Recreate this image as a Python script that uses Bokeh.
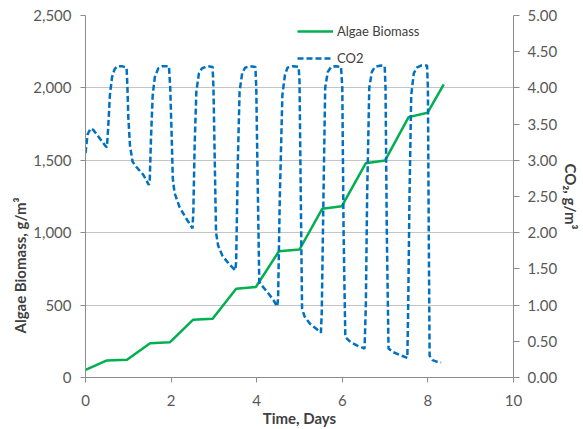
from bokeh.plotting import figure
from bokeh.models import (Range1d, LinearAxis, SingleIntervalTicker, NumeralTickFormatter,
                          Legend, LegendItem, Title)
from bokeh.embed import file_html
from bokeh.resources import INLINE

# ---- data ----
days_bio = [0.0, 0.5, 0.97, 1.51, 1.97, 2.51, 2.97, 3.52, 3.98, 4.52, 5.0, 5.53, 5.99, 6.55, 7.0, 7.55, 7.99, 8.37]
algae_biomass = [52, 118, 123, 237, 243, 398, 406, 613, 625, 872, 884, 1165, 1183, 1480, 1499, 1798, 1828, 2025]

days_co2 = [
    0.00, 0.05, 0.12, 0.18, 0.30, 0.45, 0.50, 0.53, 0.57, 0.62, 0.68, 0.75, 0.85, 0.96,
    0.98, 1.00, 1.04, 1.10, 1.20, 1.35, 1.48, 1.50, 1.53, 1.57, 1.62, 1.70, 1.80, 1.95,
    1.98, 2.01, 2.04, 2.08, 2.20, 2.35, 2.50, 2.52, 2.55, 2.59, 2.65, 2.72, 2.85, 2.97,
    2.99, 3.02, 3.05, 3.10, 3.20, 3.35, 3.50, 3.52, 3.56, 3.60, 3.66, 3.73, 3.85, 3.97,
    3.99, 4.02, 4.06, 4.12, 4.25, 4.40, 4.48, 4.50, 4.54, 4.60, 4.66, 4.72, 4.85, 4.98,
    5.00, 5.03, 5.06, 5.12, 5.25, 5.40, 5.50, 5.52, 5.56, 5.60, 5.66, 5.74, 5.85, 5.97,
    6.00, 6.03, 6.07, 6.19, 6.35, 6.52, 6.55, 6.58, 6.63, 6.69, 6.76, 6.90, 6.99,
    7.01, 7.04, 7.08, 7.19, 7.35, 7.52, 7.54, 7.57, 7.61, 7.67, 7.74, 7.85, 7.98,
    8.00, 8.02, 8.04, 8.11, 8.20, 8.31,
]
co2_conc = [
    3.10, 3.36, 3.44, 3.42, 3.33, 3.21, 3.18, 3.45, 3.90, 4.15, 4.26, 4.30, 4.30, 4.28,
    4.00, 3.60, 3.20, 2.98, 2.90, 2.80, 2.66, 2.70, 3.30, 3.90, 4.15, 4.27, 4.30, 4.30,
    4.00, 3.40, 2.75, 2.55, 2.35, 2.20, 2.06, 2.30, 3.20, 3.95, 4.20, 4.27, 4.30, 4.29,
    4.00, 3.00, 2.00, 1.82, 1.68, 1.57, 1.48, 1.60, 3.00, 3.95, 4.20, 4.28, 4.30, 4.29,
    4.00, 2.80, 1.32, 1.27, 1.18, 1.06, 0.98, 1.10, 2.50, 3.90, 4.18, 4.28, 4.30, 4.29,
    4.10, 2.50, 0.95, 0.84, 0.74, 0.67, 0.62, 0.90, 2.50, 4.00, 4.22, 4.29, 4.30, 4.29,
    4.00, 2.00, 0.56, 0.49, 0.44, 0.40, 1.00, 2.50, 4.00, 4.22, 4.29, 4.31, 4.30,
    4.00, 2.00, 0.40, 0.35, 0.31, 0.27, 1.00, 2.50, 3.90, 4.20, 4.28, 4.31, 4.31,
    4.00, 2.00, 0.30, 0.24, 0.22, 0.21,
]

x_label = "Time, Days"
y_label = "Algae Biomass, g/m³"
y2_label = "CO₂, g/m³"
series_names = ["Algae Biomass", "CO2"]

FONT = "Lato"
TICK_COLOR = "#595959"
TITLE_COLOR = "#404040"
AXIS_COLOR = "#8C8C8C"

p = figure(width=583, height=429, output_backend="svg", toolbar_location=None,
           x_range=Range1d(0, 10), y_range=Range1d(0, 2500),
           min_border_left=85, min_border_right=67, min_border_top=15, min_border_bottom=52)
p.outline_line_color = None
p.background_fill_color = "white"
p.border_fill_color = "white"

p.extra_y_ranges = {"co2": Range1d(0, 5)}

# grid
p.xgrid.grid_line_color = None
p.ygrid.grid_line_color = "#C4C4C4"
p.ygrid.grid_line_width = 1

def style_axis(ax):
    ax.axis_line_color = AXIS_COLOR
    ax.major_tick_line_color = AXIS_COLOR
    ax.major_tick_in = 0
    ax.major_tick_out = 5
    ax.minor_tick_line_color = None
    ax.major_label_text_font = FONT
    ax.major_label_text_font_size = "15px"
    ax.major_label_text_color = TICK_COLOR
    ax.axis_label_text_font = FONT
    ax.axis_label_text_font_size = "15px"
    ax.axis_label_text_font_style = "bold"
    ax.axis_label_text_color = TITLE_COLOR

# x axis
xa = p.xaxis[0]
xa.ticker = SingleIntervalTicker(interval=2)
xa.axis_label = x_label
xa.major_label_standoff = 12
xa.axis_label_standoff = 0
style_axis(xa)

# left y axis (title placed lower, as in the reference)
ya = p.yaxis[0]
ya.ticker = SingleIntervalTicker(interval=500)
ya.formatter = NumeralTickFormatter(format="0,0")
ya.major_label_standoff = 9
style_axis(ya)
left_title = Title(text=y_label, align="left", offset=44, standoff=4,
                   text_font=FONT, text_font_size="15px", text_font_style="bold",
                   text_color=TITLE_COLOR)
p.add_layout(left_title, "left")

# right y axis
y2 = LinearAxis(y_range_name="co2", ticker=SingleIntervalTicker(interval=0.5),
                formatter=NumeralTickFormatter(format="0.00"), axis_label=y2_label)
y2.major_label_standoff = 8
y2.axis_label_standoff = 2
style_axis(y2)
y2.major_tick_out = 6
p.add_layout(y2, "right")

# series
r_bio = p.line(days_bio, algae_biomass, line_color="#00B050", line_width=2.5)
r_co2 = p.line(days_co2, co2_conc, y_range_name="co2", line_color="#0070C0",
               line_width=2.5, line_dash="6 3")

legend = Legend(items=[LegendItem(label=series_names[0], renderers=[r_bio]),
                       LegendItem(label=series_names[1], renderers=[r_co2])],
                location=(212, 309))
legend.background_fill_alpha = 0
legend.border_line_alpha = 0
legend.padding = 0
legend.margin = 0
legend.spacing = 7
legend.glyph_width = 36
legend.glyph_height = 20
legend.label_standoff = 4
legend.label_text_font = FONT
legend.label_text_font_size = "13px"
legend.label_text_color = TITLE_COLOR
p.add_layout(legend)

open("out.html", "w").write(file_html(p, INLINE))
